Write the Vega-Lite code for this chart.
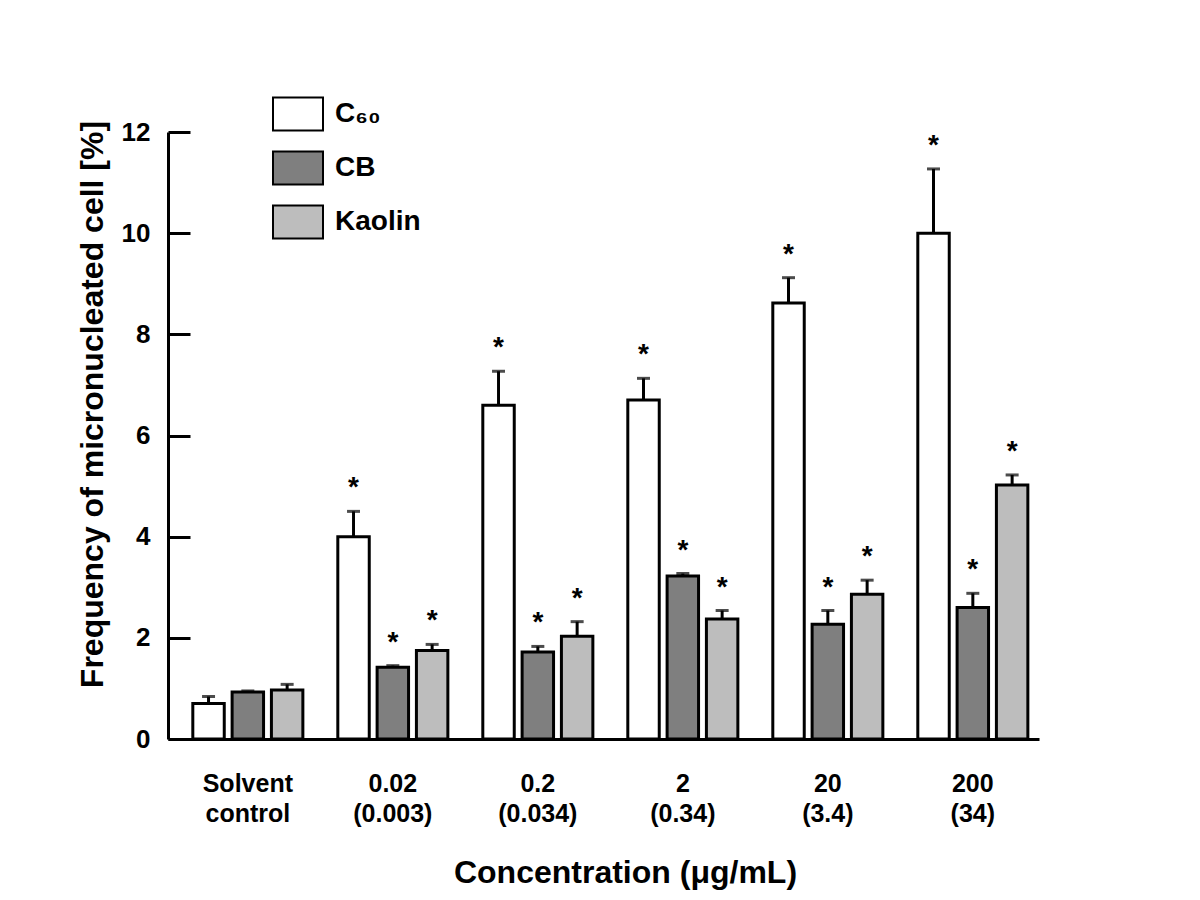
{
  "$schema": "https://vega.github.io/schema/vega-lite/v6.json",
  "width": 871,
  "height": 607,
  "autosize": {"type": "none"},
  "padding": {"left": 168, "top": 132, "right": 161, "bottom": 161},
  "background": "white",
  "config": {
    "view": {"stroke": null},
    "font": "Liberation Sans"
  },
  "data": {
    "values": [
      {"group": "Solvent|control", "material": "C60", "value": 0.7, "err": 0.84},
      {"group": "Solvent|control", "material": "CB", "value": 0.93, "err": 0.95},
      {"group": "Solvent|control", "material": "Kaolin", "value": 0.97, "err": 1.08},
      {"group": "0.02|(0.003)", "material": "C60", "value": 4.0, "err": 4.5},
      {"group": "0.02|(0.003)", "material": "CB", "value": 1.42, "err": 1.45},
      {"group": "0.02|(0.003)", "material": "Kaolin", "value": 1.75, "err": 1.87},
      {"group": "0.2|(0.034)", "material": "C60", "value": 6.6, "err": 7.27},
      {"group": "0.2|(0.034)", "material": "CB", "value": 1.72, "err": 1.83},
      {"group": "0.2|(0.034)", "material": "Kaolin", "value": 2.03, "err": 2.32},
      {"group": "2|(0.34)", "material": "C60", "value": 6.7, "err": 7.13},
      {"group": "2|(0.34)", "material": "CB", "value": 3.22, "err": 3.27},
      {"group": "2|(0.34)", "material": "Kaolin", "value": 2.37, "err": 2.54},
      {"group": "20|(3.4)", "material": "C60", "value": 8.62, "err": 9.12},
      {"group": "20|(3.4)", "material": "CB", "value": 2.27, "err": 2.54},
      {"group": "20|(3.4)", "material": "Kaolin", "value": 2.86, "err": 3.14},
      {"group": "200|(34)", "material": "C60", "value": 10.0, "err": 11.27},
      {"group": "200|(34)", "material": "CB", "value": 2.6, "err": 2.88},
      {"group": "200|(34)", "material": "Kaolin", "value": 5.02, "err": 5.22}
    ]
  },
  "encoding": {
    "x": {
      "field": "group",
      "type": "nominal",
      "sort": null,
      "scale": {"paddingInner": 0.241, "paddingOuter": 0.124, "align": 0.69},
      "axis": {
        "title": "Concentration (μg/mL)",
        "titleFont": "Liberation Sans",
        "titleFontSize": 32,
        "titleFontWeight": "bold",
        "titleColor": "black",
        "titleX": 457,
        "titleY": 143,
        "titleBaseline": "alphabetic",
        "titleAlign": "center",
        "ticks": false,
        "labelAngle": 0,
        "labelExpr": "split(datum.value, '|')",
        "labelFont": "Liberation Sans",
        "labelFontSize": 25,
        "labelFontWeight": "bold",
        "labelColor": "black",
        "labelLineHeight": 30,
        "labelPadding": 32,
        "domainColor": "black",
        "domainWidth": 3
      }
    },
    "xOffset": {
      "field": "material",
      "type": "nominal",
      "sort": ["C60", "CB", "Kaolin"],
      "scale": {"paddingInner": 0.2, "paddingOuter": 0}
    }
  },
  "layer": [
    {
      "mark": {"type": "bar", "stroke": "black", "strokeWidth": 3, "opacity": 1},
      "encoding": {
        "y": {
          "field": "value",
          "type": "quantitative",
          "scale": {"domain": [0, 12], "nice": false},
          "axis": {
            "values": [0, 2, 4, 6, 8, 10, 12],
            "title": "Frequency of micronucleated cell [%]",
            "titleFont": "Liberation Sans",
            "titleFontSize": 32,
            "titleFontWeight": "bold",
            "titleColor": "black",
            "titleX": -76,
            "titleY": 272,
            "titleAlign": "center",
            "titleBaseline": "middle",
            "titleAngle": -90,
            "grid": false,
            "tickSize": -22,
            "tickWidth": 3,
            "tickColor": "black",
            "domainColor": "black",
            "domainWidth": 3,
            "labelFont": "Liberation Sans",
            "labelFontSize": 26,
            "labelFontWeight": "bold",
            "labelColor": "black",
            "labelPadding": 40
          }
        },
        "fill": {
          "field": "material",
          "type": "nominal",
          "sort": ["C60", "CB", "Kaolin"],
          "scale": {"domain": ["C60", "CB", "Kaolin"], "range": ["#ffffff", "#7f7f7f", "#bdbdbd"]},
          "legend": {
            "orient": "none",
            "legendX": 104,
            "legendY": -44,
            "title": null,
            "padding": 0,
            "symbolType": "M-1,-0.66H1V0.66H-1Z",
            "symbolSize": 2500,
            "symbolStrokeColor": "black",
            "symbolStrokeWidth": 2,
            "symbolOpacity": 1,
            "labelFont": "Liberation Sans",
            "labelFontSize": 28,
            "labelFontWeight": "bold",
            "labelColor": "black",
            "labelOffset": 11,
            "rowPadding": 7,
            "labelExpr": "datum.value == 'C60' ? 'C₆₀' : datum.value"
          }
        }
      }
    },
    {
      "mark": {"type": "rule", "color": "black", "strokeWidth": 3},
      "encoding": {
        "y": {"field": "value", "type": "quantitative"},
        "y2": {"field": "err"}
      }
    },
    {
      "mark": {"type": "tick", "color": "black", "thickness": 3, "size": 13, "orient": "horizontal"},
      "encoding": {
        "y": {"field": "err", "type": "quantitative"}
      }
    },
    {
      "transform": [{"filter": "datum.group != 'Solvent|control'"}],
      "mark": {"type": "text", "text": "*", "font": "Liberation Sans", "fontSize": 28, "fontWeight": "bold", "color": "black", "baseline": "alphabetic", "dy": -15},
      "encoding": {
        "y": {"field": "err", "type": "quantitative"}
      }
    }
  ]
}
